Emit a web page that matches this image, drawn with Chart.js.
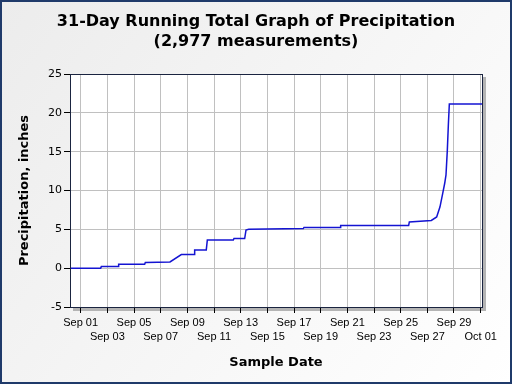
<!DOCTYPE html>
<html lang="en">
<head>
<meta charset="utf-8">
<script src="https://cdn.jsdelivr.net/npm/chart.js@4"></script>
<title>31-Day Running Total Graph of Precipitation</title>
<style>
html, body { margin: 0; padding: 0; background: #fff; }
#wrap { width: 512px; height: 384px; }
</style>
</head>
<body>
<div id="wrap"><canvas id="myChart" width="512" height="384"></canvas></div>
<script>
// days after Sep 01 00:00, running total (inches)
const days = [-0.8, 1.5, 1.55, 2.8, 2.85, 4.8, 4.85, 6.7, 7.55, 7.68, 8.5, 8.55, 9.42, 9.5, 11.45, 11.5, 12.3, 12.4, 12.6, 16.7, 16.75, 19.45, 19.5, 24.6, 24.65, 26.3, 26.7, 26.95, 27.15, 27.3, 27.4, 27.5, 27.58, 27.65, 30.1];
const totals = [0, 0, 0.2, 0.2, 0.5, 0.5, 0.72, 0.8, 1.75, 1.75, 1.75, 2.35, 2.35, 3.63, 3.63, 3.82, 3.82, 4.9, 5.0, 5.1, 5.25, 5.25, 5.5, 5.5, 5.95, 6.15, 6.6, 7.9, 9.6, 10.9, 12.0, 15.2, 18.6, 21.15, 21.15];
const monthNames = ['Sep', 'Oct'];
const yTicks = [-5, 0, 5, 10, 15, 20, 25];

function dayLabel(v) {
  const d = Math.round(v) + 1;
  if (d > 30) return monthNames[1] + ' ' + String(d - 30).padStart(2, '0');
  return monthNames[0] + ' ' + String(d).padStart(2, '0');
}

const frame = {
  id: 'frame',
  beforeDraw(chart) {
    const c = chart.ctx, a = chart.chartArea;
    const g = c.createLinearGradient(0, 0, 512, 384);
    g.addColorStop(0, '#ececec');
    g.addColorStop(1, '#ffffff');
    c.save();
    c.fillStyle = g;
    c.fillRect(0, 0, chart.width, chart.height);
    c.strokeStyle = '#1f3a6a';
    c.lineWidth = 2;
    c.strokeRect(1, 1, chart.width - 2, chart.height - 2);
    c.fillStyle = '#b4b4b4';
    c.fillRect(a.left + 3, a.top + 3, a.width + 1, a.height + 1);
    c.fillStyle = '#ffffff';
    c.fillRect(a.left, a.top, a.width, a.height);
    c.restore();
  },
  afterDraw(chart) {
    const c = chart.ctx, a = chart.chartArea;
    c.save();
    c.strokeStyle = '#1a2440';
    c.lineWidth = 1;
    c.strokeRect(a.left + 0.5, a.top + 0.5, a.width, a.height);
    c.restore();
  }
};

const ctx = document.getElementById('myChart');
new Chart(ctx, {
  type: 'line',
  data: {
    datasets: [{
      data: days.map((d, i) => ({x: d, y: totals[i]})),
      borderColor: '#1414d2',
      borderWidth: 1.5,
      pointRadius: 0,
      tension: 0
    }]
  },
  options: {
    responsive: false,
    animation: false,
    layout: { padding: 0 },
    plugins: {
      legend: { display: false },
      tooltip: { enabled: false },
      title: {
        display: true,
        text: ['31-Day Running Total Graph of Precipitation', '(2,977 measurements)'],
        color: '#000',
        font: { family: 'DejaVu Sans', size: 16, weight: 'bold', lineHeight: 1.25 },
        padding: { top: 12, bottom: 22 }
      }
    },
    scales: {
      x: {
        type: 'linear',
        min: days[0],
        max: days[days.length - 1],
        afterFit(s) { s.height = 77; },
        border: { color: '#000', width: 1 },
        grid: { color: '#c0c0c0', tickColor: '#000', tickLength: 6 },
        ticks: {
          stepSize: 2,
          includeBounds: false,
          autoSkip: false,
          maxRotation: 0,
          padding: 2,
          color: '#000',
          font: { family: 'Liberation Sans', size: 11, lineHeight: 1.36 },
          callback(v) {
            const lab = dayLabel(v);
            return (Math.round(v / 2) % 2 === 0) ? [lab, ''] : ['', lab];
          }
        },
        title: {
          display: true,
          text: 'Sample Date',
          color: '#000',
          font: { family: 'DejaVu Sans', size: 13, weight: 'bold', lineHeight: 1.2 },
          padding: { top: 0, bottom: 14 }
        }
      },
      y: {
        min: yTicks[0],
        max: yTicks[yTicks.length - 1],
        afterFit(s) { s.width = 70; },
        afterBuildTicks(s) { s.ticks = yTicks.map(v => ({value: v})); },
        border: { color: '#000', width: 1 },
        grid: { color: '#c0c0c0', tickColor: '#000', tickLength: 6 },
        ticks: {
          padding: 2,
          color: '#000',
          font: { family: 'DejaVu Sans', size: 11 }
        },
        title: {
          display: true,
          text: 'Precipitation, inches',
          color: '#000',
          font: { family: 'DejaVu Sans', size: 13, weight: 'bold', lineHeight: 1.2 },
          padding: { top: 17, bottom: 0 }
        }
      },
      spacer: {
        position: 'right',
        min: 0,
        max: 1,
        afterFit(s) { s.width = 30; },
        grid: { display: false, drawTicks: false },
        border: { display: false },
        ticks: { display: false }
      }
    }
  },
  plugins: [frame]
});
</script>
</body>
</html>
